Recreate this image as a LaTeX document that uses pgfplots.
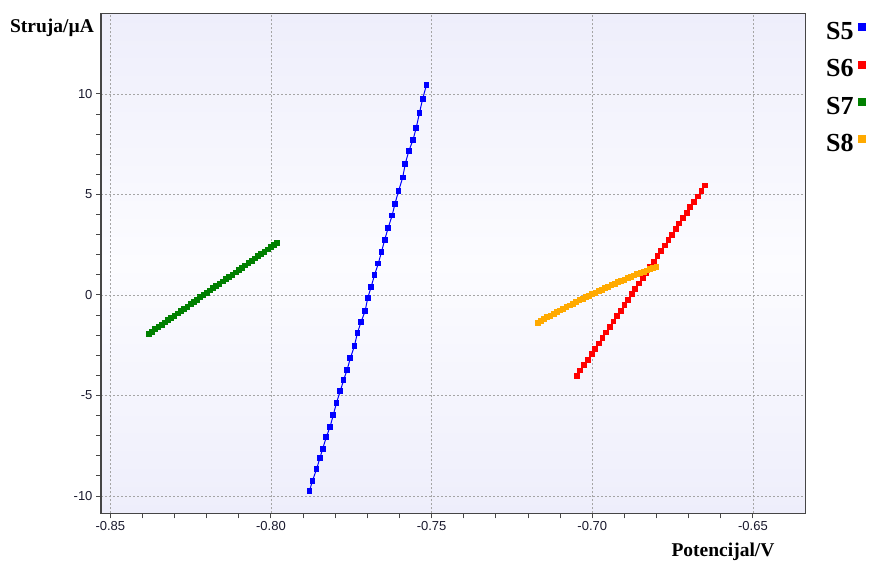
\documentclass[border=0pt]{standalone}
\usepackage{pgfplots}
\pgfplotsset{compat=1.18}
\usepackage{fontspec}
\setmainfont{Liberation Serif}
\newfontfamily\ticksans{Liberation Sans}

\definecolor{sfive}{RGB}{0,0,255}
\definecolor{ssix}{RGB}{255,0,0}
\definecolor{sseven}{RGB}{0,128,0}
\definecolor{seight}{RGB}{255,170,0}
\definecolor{bgedge}{RGB}{238,238,251}
\definecolor{bgmid}{RGB}{252,252,255}
\definecolor{gridgray}{RGB}{165,165,165}
\definecolor{framegray}{RGB}{70,70,70}
\definecolor{ticktext}{RGB}{25,25,45}

\begin{document}
\begin{tikzpicture}
\useasboundingbox (0,0) rectangle (873pt,565pt);
\begin{axis}[
  at={(101pt,51.7pt)}, anchor=south west,
  scale only axis, width=704.3pt, height=500pt,
  xmin=-0.8529, xmax=-0.6337, ymin=-10.86, ymax=14.01,
  xtick={-0.85,-0.80,-0.75,-0.70,-0.65},
  ytick={-10,-5,0,5,10},
  minor x tick num=4, minor y tick num=4,
  scaled x ticks=false, scaled y ticks=false,
  tick pos=left, tick align=outside,
  major tick length=5pt, minor tick length=5pt,
  tick style={framegray, line width=1pt},
  x tick label style={/pgf/number format/.cd, fixed, fixed zerofill, precision=2},
  /pgf/number format/assume math mode=true,
  ticklabel style={font=\ticksans\fontsize{13}{15}\selectfont, text=ticktext},
  grid=major,
  major grid style={gridgray, line width=0.8pt, dash pattern=on 2pt off 2pt},
  axis line style={framegray, line width=1.3pt},
  axis background/.style={top color=bgedge, bottom color=bgedge, middle color=bgmid},
  every axis plot/.append style={line width=1pt, mark=square*, mark size=2.4pt},
  legend plot pos=right,
  legend image code/.code={\fill (0pt,0pt) rectangle (7pt,7pt);},
  legend style={at={(1.025,0.986)}, anchor=north west, draw=none, fill=none,
    font=\bfseries\fontsize{26}{28}\selectfont,
    nodes={inner sep=0pt, text height=17pt, text depth=0pt},
    row sep=20.3pt, column sep=4pt},
]
% S5
\addplot[sfive] coordinates {
(-0.7880,-9.74) (-0.7871,-9.25) (-0.7858,-8.66) (-0.7848,-8.12) (-0.7839,-7.65)
(-0.7828,-7.08) (-0.7816,-6.55) (-0.7806,-5.97) (-0.7796,-5.36) (-0.7784,-4.76)
(-0.7774,-4.24) (-0.7763,-3.72) (-0.7753,-3.15) (-0.7740,-2.52) (-0.7731,-1.89)
(-0.7720,-1.36) (-0.7707,-0.80) (-0.7699,-0.16) (-0.7688,0.41) (-0.7678,0.98)
(-0.7666,1.56) (-0.7656,2.14) (-0.7646,2.75) (-0.7635,3.35) (-0.7623,3.95)
(-0.7614,4.54) (-0.7603,5.17) (-0.7590,5.84) (-0.7582,6.53) (-0.7571,7.16)
(-0.7558,7.71) (-0.7548,8.31) (-0.7538,9.04) (-0.7528,9.75) (-0.7516,10.45)
};
\addlegendentry{S5}
% S6
\addplot[ssix] coordinates {
(-0.7048,-4.03) (-0.7037,-3.76) (-0.7025,-3.49) (-0.7014,-3.22) (-0.7002,-2.95)
(-0.6991,-2.68) (-0.6980,-2.41) (-0.6968,-2.14) (-0.6957,-1.87) (-0.6945,-1.59)
(-0.6934,-1.32) (-0.6923,-1.05) (-0.6911,-0.78) (-0.6900,-0.51) (-0.6888,-0.24)
(-0.6877,0.03) (-0.6866,0.30) (-0.6854,0.57) (-0.6843,0.84) (-0.6831,1.11)
(-0.6820,1.38) (-0.6809,1.65) (-0.6797,1.92) (-0.6786,2.19) (-0.6774,2.46)
(-0.6763,2.73) (-0.6752,3.00) (-0.6740,3.28) (-0.6729,3.55) (-0.6717,3.82)
(-0.6706,4.09) (-0.6695,4.36) (-0.6683,4.63) (-0.6672,4.90) (-0.6660,5.17)
(-0.6649,5.44)
};
\addlegendentry{S6}
% S7
\addplot[sseven] coordinates {
(-0.838,-1.94) (-0.837,-1.83) (-0.836,-1.71) (-0.835,-1.60) (-0.834,-1.49)
(-0.833,-1.37) (-0.832,-1.26) (-0.831,-1.15) (-0.830,-1.03) (-0.829,-0.92)
(-0.828,-0.81) (-0.827,-0.69) (-0.826,-0.58) (-0.825,-0.46) (-0.824,-0.35)
(-0.823,-0.24) (-0.822,-0.12) (-0.821,-0.01) (-0.820,0.10) (-0.819,0.22)
(-0.818,0.33) (-0.817,0.44) (-0.816,0.56) (-0.815,0.67) (-0.814,0.78)
(-0.813,0.90) (-0.812,1.01) (-0.811,1.12) (-0.810,1.24) (-0.809,1.35)
(-0.808,1.47) (-0.807,1.58) (-0.806,1.69) (-0.805,1.81) (-0.804,1.92)
(-0.803,2.03) (-0.802,2.15) (-0.801,2.26) (-0.800,2.37) (-0.799,2.49)
(-0.798,2.60)
};
\addlegendentry{S7}
% S8
\addplot[seight] coordinates {
(-0.717,-1.38) (-0.716,-1.29) (-0.715,-1.20) (-0.714,-1.11) (-0.713,-1.03)
(-0.712,-0.94) (-0.711,-0.85) (-0.710,-0.77) (-0.709,-0.68) (-0.708,-0.60)
(-0.707,-0.52) (-0.706,-0.44) (-0.705,-0.35) (-0.704,-0.27) (-0.703,-0.19)
(-0.702,-0.12) (-0.701,-0.04) (-0.700,0.04) (-0.699,0.11) (-0.698,0.19)
(-0.697,0.26) (-0.696,0.34) (-0.695,0.41) (-0.694,0.48) (-0.693,0.56)
(-0.692,0.63) (-0.691,0.70) (-0.690,0.76) (-0.689,0.83) (-0.688,0.90)
(-0.687,0.97) (-0.686,1.03) (-0.685,1.10) (-0.684,1.16) (-0.683,1.22)
(-0.682,1.29) (-0.681,1.35) (-0.680,1.41)
};
\addlegendentry{S8}
\end{axis}
\node[font=\bfseries\fontsize{19.5}{21}\selectfont] at (52pt,537pt) {Struja/µA};
\node[font=\bfseries\fontsize{19.5}{21}\selectfont] at (723pt,13pt) {Potencijal/V};
\end{tikzpicture}
\end{document}
